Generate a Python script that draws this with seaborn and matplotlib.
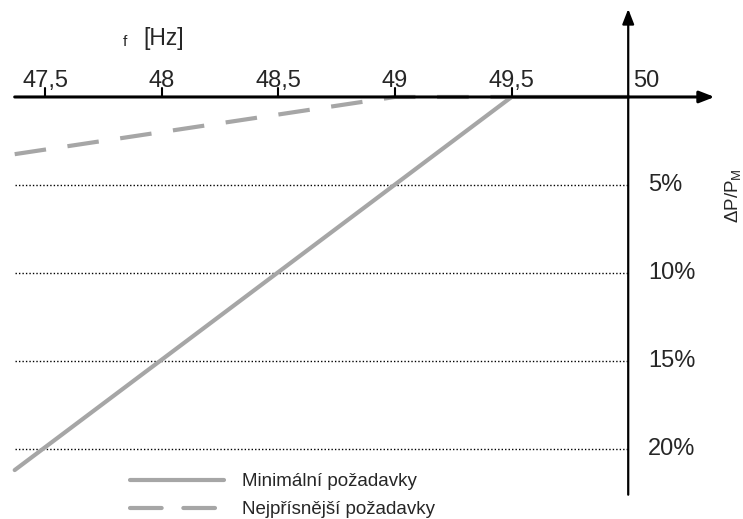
import pandas as pd
import seaborn as sns
import matplotlib.pyplot as plt

# frequency [Hz] and power reduction [% of P_M] for the two requirement curves
min_f = [47.37, 49.5, 50.0]
min_dp = [21.2, 0.0, 0.0]
strict_f = [47.37, 49.0, 49.5]
strict_dp = [3.25, 0.0, 0.0]

x_ticks = [47.5, 48, 48.5, 49, 49.5]
x_labels = ['47,5', '48', '48,5', '49', '49,5']
y_levels = [5, 10, 15, 20]
y_labels = ['5%', '10%', '15%', '20%']
series_names = ['Minimální požadavky', 'Nejpřísnější požadavky']

sns.set_style('white')
plt.rcParams['font.family'] = ['Liberation Sans', 'DejaVu Sans']
plt.rcParams['mathtext.fontset'] = 'custom'
plt.rcParams['mathtext.rm'] = 'Liberation Sans'
plt.rcParams['mathtext.it'] = 'Liberation Sans'

df = pd.concat([
    pd.DataFrame({'f': min_f, 'dp': min_dp, 'series': series_names[0]}),
    pd.DataFrame({'f': strict_f, 'dp': strict_dp, 'series': series_names[1]}),
])

fig = plt.figure(figsize=(7.43, 5.19), dpi=100)
ax = fig.add_axes([0, 0, 1, 1])
ax.set_xlim(47.307, 50.492)
ax.set_ylim(23.98, -5.51)
for s in ax.spines.values():
    s.set_visible(False)
ax.set_xticks([])
ax.set_yticks([])

# dotted reference lines
for lv in y_levels:
    ax.plot([47.37, 50.0], [lv, lv], color='black', lw=1.0, ls=(0, (1, 1.5)))

# axes with arrows
ax.annotate('', xy=(50.37, 0), xytext=(47.37, 0),
            arrowprops=dict(arrowstyle='-|>,head_length=0.9,head_width=0.35', color='black', lw=2.2,
                            shrinkA=0, shrinkB=0))
ax.annotate('', xy=(50.0, -5.0), xytext=(50.0, 22.6),
            arrowprops=dict(arrowstyle='-|>,head_length=0.9,head_width=0.35', color='black', lw=1.6,
                            shrinkA=0, shrinkB=0))

sns.lineplot(data=df, x='f', y='dp', style='series', sort=False, ax=ax,
             color='#a6a6a6', lw=3.0, dashes={series_names[0]: '', series_names[1]: (7.6, 5.2)},
             estimator=None)
for ln in ax.lines[-2:]:
    ln.set_dash_capstyle('round')
    ln.set_solid_capstyle('round')
ax.set_xlabel('')
ax.set_ylabel('')

# tick marks and labels on the frequency axis
for xv, lab in zip(x_ticks, x_labels):
    ax.plot([xv, xv], [0, -0.5], color='black', lw=1.5)
    ax.text(xv, -0.57, lab, ha='center', va='baseline', fontsize=17)
ax.text(50.02, -0.57, '50', ha='left', va='baseline', fontsize=17)

for lv, lab in zip(y_levels, y_labels):
    ax.text(50.086, lv, lab, ha='left', va='center', fontsize=17)

ax.text(47.843, -3.1, 'f', ha='center', va='center', fontsize=11)
ax.text(47.92, -3.3, '[Hz]', ha='left', va='center', fontsize=16.5)
ax.text(50.447, 5.6, r'$\Delta$P/P$_\mathrm{M}$', rotation=90, ha='center', va='center', fontsize=13.5)

leg = ax.legend(loc='upper left', bbox_to_anchor=(130 / 743, 1 - 473 / 519), frameon=False,
                fontsize=13.5, handlelength=5.0, handletextpad=0.95, labelspacing=0.6,
                borderpad=0, borderaxespad=0)
for h in leg.get_lines():
    h.set_linewidth(3.0)
    h.set_color('#a6a6a6')
    h.set_dash_capstyle('round')
    h.set_solid_capstyle('round')

fig.savefig('out.png', dpi=100)
